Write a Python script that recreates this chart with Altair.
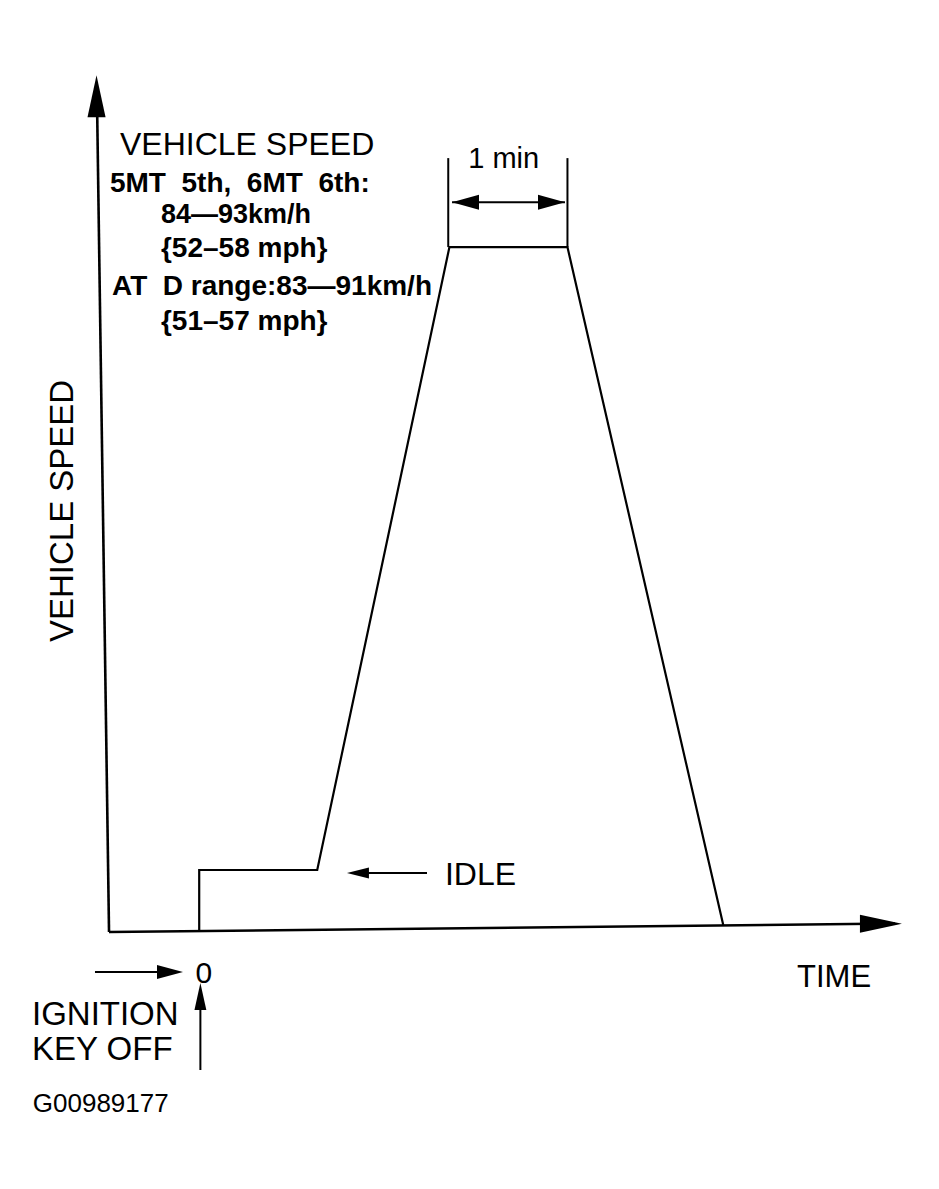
import altair as alt
import pandas as pd

# ---- speed profile (time in minutes, speed in km/h) ----
profile_time = [0.0, 0.0, 1.0, 2.12, 3.12, 4.44]
profile_speed = [-0.3, 7.5, 7.5, 88.0, 88.0, 0.4]

# ---- axis lines ----
axis_names = ["x_axis", "y_axis"]
axis_t1 = [-0.764, -0.764]
axis_v1 = [-0.52, -0.52]
axis_t2 = [5.895, -0.866]
axis_v2 = [0.58, 107.0]

# ---- annotation lines ----
ann_names = ["min_left", "min_right", "min_span", "idle_arrow", "ign_h", "ign_v"]
ann_t1 = [2.11, 3.12, 2.142, 1.30, -0.883, 0.01]
ann_v1 = [88.0, 88.0, 93.8, 7.1, -5.69, -18.35]
ann_t2 = [2.11, 3.12, 3.099, 1.93, -0.30, 0.01]
ann_v2 = [99.5, 99.5, 93.8, 7.1, -5.69, -9.5]

# ---- arrowheads ----
head_names = ["y_axis", "x_axis", "min_left", "min_right", "idle", "ign_h", "ign_v"]
head_t = [-0.870, 5.776, 2.256, 2.985, 1.345, -0.2475, 0.01]
head_v = [107.5, 0.54, 93.8, 93.8, 7.1, -5.69, -8.85]

# ---- text labels ----
NB2 = "\u00a0\u00a0"
labels = [
    "VEHICLE SPEED",
    f"5MT{NB2}5th,{NB2}6MT{NB2}6th:",
    "84\u201493km/h",
    "{52\u201358 mph}",
    f"AT{NB2}D range:83\u201491km/h",
    "{51\u201357 mph}",
    "1 min",
    "IDLE",
    "VEHICLE SPEED",
    "TIME",
    "0",
    "IGNITION",
    "KEY OFF",
    "G00989177",
]
label_t = [-0.671, -0.756, -0.324, -0.324, -0.739, -0.324, 2.58, 2.082,
           -1.069, 5.065, 0.04, -1.417, -1.417, -1.41]
label_v = [99.9, 95.1, 91.1, 86.7, 81.8, 77.3, 98.2, 5.6,
           53.9, -7.63, -7.11, -12.54, -17.06, -23.78]

# ---- styles (kept apart from data) ----
FONT = "Liberation Sans, Arial, Helvetica, sans-serif"
head_style = {
    "y_axis": ("M0,-1L0.43,1L-0.43,1Z", 1764),
    "x_axis": ("M1,0L-1,-0.43L-1,0.43Z", 1764),
    "min_left": ("M-1,0L1,-0.556L1,0.556Z", 729),
    "min_right": ("M1,0L-1,-0.556L-1,0.556Z", 729),
    "idle": ("M-1,0L1,-0.5L1,0.5Z", 484),
    "ign_h": ("M1,0L-1,-0.54L-1,0.54Z", 676),
    "ign_v": ("M0,-1L0.44,1L-0.44,1Z", 729),
}
label_style = [
    dict(fontSize=32, fontWeight="normal", align="left", angle=0),
    dict(fontSize=28, fontWeight="bold", align="left", angle=0),
    dict(fontSize=27, fontWeight="bold", align="left", angle=0),
    dict(fontSize=28, fontWeight="bold", align="left", angle=0),
    dict(fontSize=28, fontWeight="bold", align="left", angle=0),
    dict(fontSize=28, fontWeight="bold", align="left", angle=0),
    dict(fontSize=29, fontWeight="normal", align="center", angle=0),
    dict(fontSize=32, fontWeight="normal", align="left", angle=0),
    dict(fontSize=33, fontWeight="normal", align="center", angle=270),
    dict(fontSize=31, fontWeight="normal", align="left", angle=0),
    dict(fontSize=30, fontWeight="normal", align="center", angle=0),
    dict(fontSize=33, fontWeight="normal", align="left", angle=0),
    dict(fontSize=33, fontWeight="normal", align="left", angle=0),
    dict(fontSize=26, fontWeight="normal", align="left", angle=0),
]

W, H = 910, 1140
xs = alt.Scale(domain=[-1.62, 6.09], nice=False, zero=False)
ys = alt.Scale(domain=[-28.43, 118.9], nice=False, zero=False)


def X(field):
    return alt.X(f"{field}:Q", scale=xs, axis=None)


def Y(field):
    return alt.Y(f"{field}:Q", scale=ys, axis=None)


profile_df = pd.DataFrame({"t": profile_time, "v": profile_speed,
                           "i": list(range(len(profile_time)))})
profile = alt.Chart(profile_df).mark_line(color="black", strokeWidth=2.2).encode(
    x=X("t"), y=Y("v"), order="i:Q"
)

axes_df = pd.DataFrame({"name": axis_names, "t1": axis_t1, "v1": axis_v1,
                        "t2": axis_t2, "v2": axis_v2})
axes = alt.Chart(axes_df).mark_rule(color="black", strokeWidth=2.6).encode(
    x=X("t1"), y=Y("v1"), x2="t2:Q", y2="v2:Q"
)

ann_df = pd.DataFrame({"name": ann_names, "t1": ann_t1, "v1": ann_v1,
                       "t2": ann_t2, "v2": ann_v2})
ann = alt.Chart(ann_df).mark_rule(color="black", strokeWidth=2.0).encode(
    x=X("t1"), y=Y("v1"), x2="t2:Q", y2="v2:Q"
)

layers = [axes, profile, ann]

for name, t, v in zip(head_names, head_t, head_v):
    path, size = head_style[name]
    df = pd.DataFrame({"t": [t], "v": [v], "name": [name]})
    layers.append(
        alt.Chart(df).mark_point(shape=path, size=size, filled=True,
                                 color="black", opacity=1, strokeWidth=0)
        .encode(x=X("t"), y=Y("v"))
    )

for text, t, v, st in zip(labels, label_t, label_v, label_style):
    df = pd.DataFrame({"t": [t], "v": [v], "label": [text]})
    layers.append(
        alt.Chart(df).mark_text(font=FONT, color="black", baseline="alphabetic",
                                **st)
        .encode(x=X("t"), y=Y("v"), text="label:N")
    )

chart = alt.layer(*layers).properties(
    width=W, height=H, padding=0,
    autosize=alt.AutoSizeParams(type="none"),
    background="white",
).configure_view(stroke=None)

chart.save("out.html", embed_options={"renderer": "svg", "actions": False})
